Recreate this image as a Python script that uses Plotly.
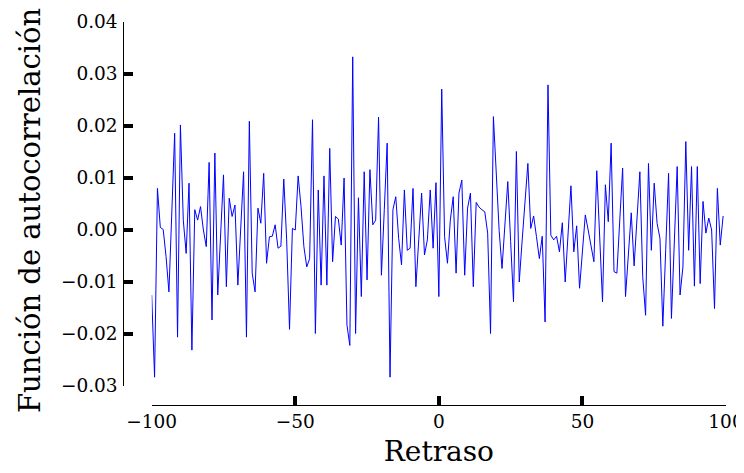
import plotly.graph_objects as go

# Lags (retrasos) -100 .. 99
lags = list(range(-100, 100))

acf_values = [
    -0.0125, -0.0283, 0.0080, 0.0005, 0.0001, -0.0051, -0.0119, 0.0033, 0.0186, -0.0206,
    0.0202, 0.0019, -0.0045, 0.0090, -0.0231, 0.0039, 0.0019, 0.0045, 0.0000, -0.0032,
    0.0130, -0.0173, 0.0148, -0.0125, -0.0013, 0.0106, -0.0109, 0.0061, 0.0026, 0.0048,
    -0.0106, -0.0003, 0.0112, -0.0206, 0.0209, -0.0083, -0.0119, 0.0042, 0.0013, 0.0109,
    -0.0064, -0.0013, -0.0012, 0.0010, -0.0035, -0.0031, 0.0098, -0.0019, -0.0191, 0.0003,
    0.0000, 0.0104, 0.0045, -0.0032, -0.0071, -0.0055, 0.0212, -0.0199, 0.0077, -0.0106,
    0.0104, -0.0106, 0.0157, -0.0061, 0.0026, 0.0021, -0.0029, 0.0100, -0.0183, -0.0222,
    0.0333, -0.0199, 0.0062, -0.0128, 0.0112, -0.0096, 0.0116, 0.0010, 0.0019, 0.0217,
    -0.0087, 0.0039, 0.0167, -0.0283, 0.0039, 0.0064, -0.0016, -0.0067, 0.0077, -0.0039,
    -0.0035, 0.0080, -0.0109, -0.0019, 0.0071, -0.0048, -0.0019, 0.0077, -0.0035, 0.0091,
    -0.0128, 0.0271, -0.0013, -0.0064, 0.0019, 0.0064, -0.0083, 0.0071, 0.0096, -0.0087,
    0.0042, 0.0071, -0.0109, 0.0053, 0.0044, 0.0039, 0.0035, -0.0006, -0.0199, 0.0218,
    0.0108, -0.0001, -0.0074, 0.0015, 0.0093, -0.0022, -0.0138, 0.0151, -0.0100, -0.0021,
    0.0058, 0.0128, 0.0003, 0.0027, -0.0013, -0.0055, -0.0012, -0.0177, 0.0279, -0.0010,
    -0.0019, -0.0012, -0.0042, 0.0014, -0.0100, -0.0010, 0.0085, -0.0042, 0.0008, -0.0112,
    -0.0046, 0.0029, 0.0000, -0.0029, -0.0061, 0.0114, -0.0004, -0.0138, 0.0087, 0.0016,
    0.0167, -0.0080, -0.0083, 0.0019, 0.0119, -0.0128, -0.0048, 0.0033, -0.0069, 0.0016,
    0.0112, -0.0090, -0.0164, 0.0128, -0.0039, 0.0090, 0.0013, -0.0016, -0.0185, -0.0038,
    0.0109, -0.0170, -0.0032, 0.0122, -0.0125, -0.0071, 0.0170, -0.0039, 0.0122, -0.0108,
    0.0122, -0.0103, 0.0055, -0.0006, 0.0023, 0.0000, -0.0151, 0.0080, -0.0029, 0.0027,
]

x_tick_vals = [-100, -50, 0, 50, 100]
x_tick_text = ["\u2212100", "\u221250", "0", "50", "100"]
y_tick_vals = [-0.03, -0.02, -0.01, 0.00, 0.01, 0.02, 0.03, 0.04]
y_tick_text = ["\u22120.03", "\u22120.02", "\u22120.01", "0.00", "0.01", "0.02", "0.03", "0.04"]

x_title = "Retraso"
y_title = "Función de autocorrelación"

FONT = "DejaVu Serif"

fig = go.Figure()
fig.add_trace(go.Scatter(
    x=lags, y=acf_values, mode="lines",
    line=dict(color="#0000ff", width=1),
    showlegend=False, hoverinfo="skip",
))

# the page body adds an 8px offset; size the figure so it fills the window
OFF = 8
W, H = 744 - OFF, 473 - OFF
ML, MR, MT, MB = 92, 2, 2, 52
pw, ph = W - ML - MR, H - MT - MB

def px_x(p):
    return (p - OFF - ML) / pw

def px_y(p):
    return (H - MB - (p - OFF)) / ph

fig.update_layout(
    width=W, height=H,
    margin=dict(l=ML, r=MR, t=MT, b=MB, autoexpand=False),
    paper_bgcolor="white", plot_bgcolor="white",
    font=dict(family=FONT, color="black", size=18),
    xaxis=dict(
        domain=[px_x(151.7), px_x(726)],
        range=[-100, 100],
        anchor="free", position=px_y(405),
        automargin=False,
        showline=True, linecolor="black", linewidth=1,
        ticks="inside", ticklen=9, tickwidth=4, tickcolor="black",
        tickvals=x_tick_vals, ticktext=x_tick_text,
        showgrid=False, zeroline=False,
        tickfont=dict(family=FONT, size=18.5, color="black"),
        title=dict(text=x_title, font=dict(family=FONT, size=28, color="black"), standoff=10),
    ),
    yaxis=dict(
        domain=[px_y(386), px_y(22)],
        range=[-0.03, 0.04],
        anchor="free", position=px_x(123.3),
        automargin=False,
        showline=True, linecolor="black", linewidth=1,
        ticks="inside", ticklen=9, tickwidth=4, tickcolor="black",
        tickvals=y_tick_vals, ticktext=y_tick_text,
        ticklabelstandoff=2,
        showgrid=False, zeroline=False,
        tickfont=dict(family=FONT, size=18.5, color="black"),
    ),
    annotations=[dict(
        text=y_title, xref="paper", yref="paper",
        x=px_x(30), y=px_y(211), xanchor="center", yanchor="middle",
        textangle=-90, showarrow=False,
        font=dict(family=FONT, size=29, color="black"),
    )],
)

fig.write_html("out.html")
